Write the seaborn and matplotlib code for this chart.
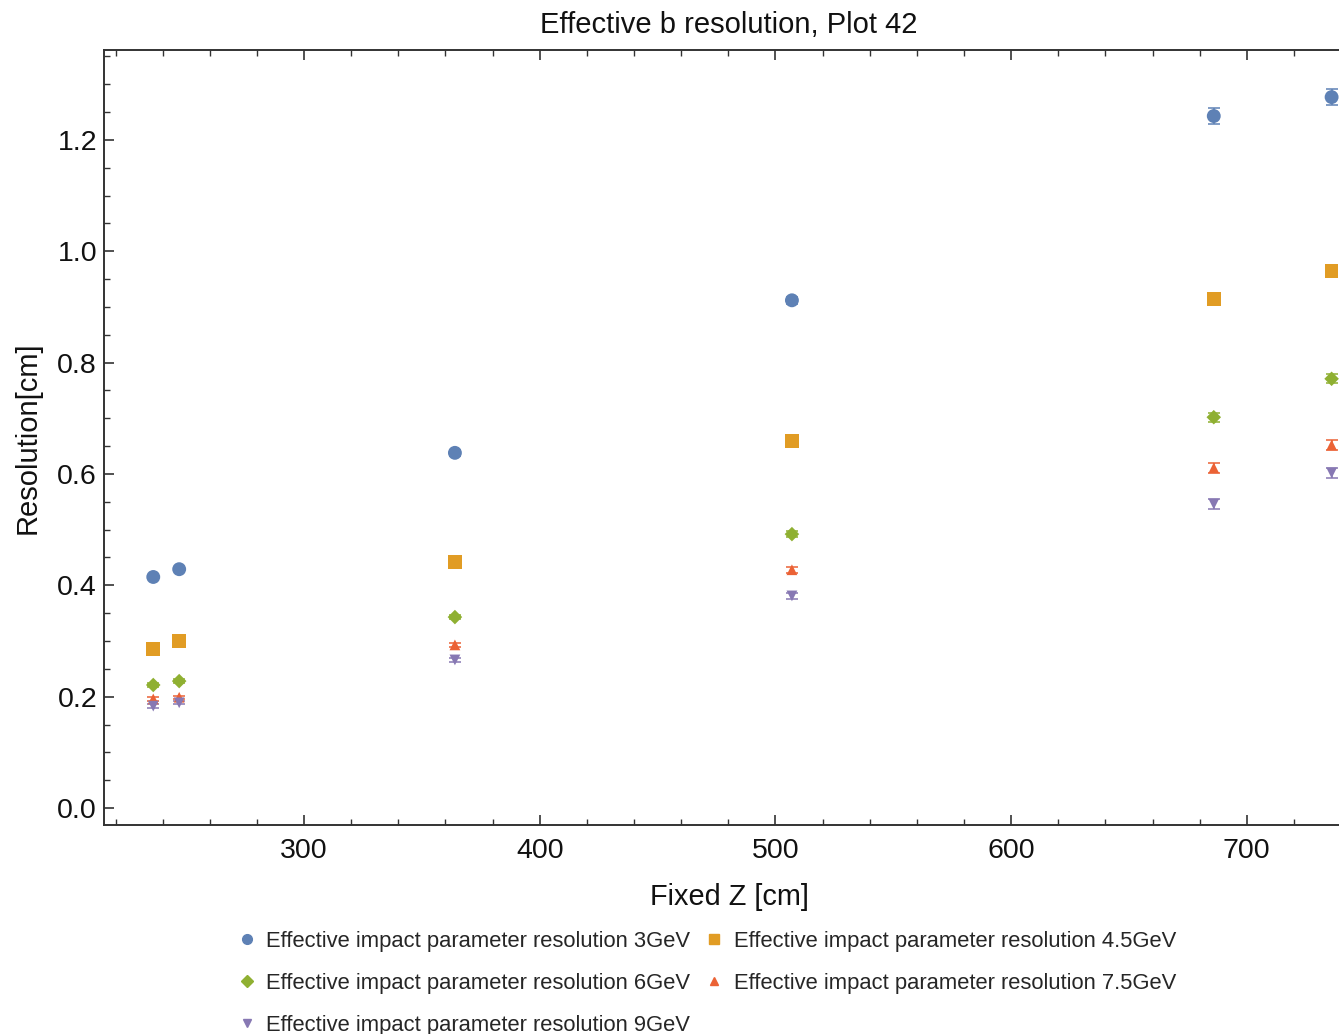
import numpy as np
import pandas as pd
import matplotlib
matplotlib.use("Agg")
import matplotlib.pyplot as plt
import seaborn as sns
from matplotlib.ticker import MultipleLocator, FormatStrFormatter
from matplotlib.lines import Line2D

# ---- data ----
fixed_z = [236, 247, 364, 507, 686, 736]
series_names = [
    "Effective impact parameter resolution 3GeV",
    "Effective impact parameter resolution 4.5GeV",
    "Effective impact parameter resolution 6GeV",
    "Effective impact parameter resolution 7.5GeV",
    "Effective impact parameter resolution 9GeV",
]
res_3gev = [0.415, 0.429, 0.638, 0.912, 1.243, 1.277]
res_4p5gev = [0.286, 0.300, 0.442, 0.659, 0.914, 0.965]
res_6gev = [0.221, 0.228, 0.343, 0.492, 0.702, 0.771]
res_7p5gev = [0.196, 0.199, 0.293, 0.428, 0.611, 0.652]
res_9gev = [0.183, 0.189, 0.266, 0.381, 0.546, 0.602]
err_3gev = [0.004, 0.004, 0.005, 0.006, 0.014, 0.014]
err_4p5gev = [0.003, 0.003, 0.004, 0.005, 0.008, 0.009]
err_6gev = [0.003, 0.003, 0.004, 0.005, 0.008, 0.008]
err_7p5gev = [0.003, 0.003, 0.004, 0.005, 0.009, 0.009]
err_9gev = [0.003, 0.003, 0.004, 0.005, 0.009, 0.009]

values = [res_3gev, res_4p5gev, res_6gev, res_7p5gev, res_9gev]
errors = [err_3gev, err_4p5gev, err_6gev, err_7p5gev, err_9gev]
colors = ["#5E81B5", "#E19C24", "#8FB032", "#EB6235", "#8778B3"]
markers = ["o", "s", "D", "^", "v"]
msizes = [100, 95, 55, 60, 60]

rows = []
for name, vals, errs in zip(series_names, values, errors):
    for z, v, e in zip(fixed_z, vals, errs):
        rows.append({"z": z, "res": v, "err": e, "series": name})
df = pd.DataFrame(rows)

sns.set_style("ticks")
plt.rcParams["font.family"] = ["Liberation Sans", "DejaVu Sans"]

W, H = 1339, 1034
fig = plt.figure(figsize=(W / 100, H / 100), dpi=100)
ax = fig.add_axes([104 / W, 1 - 825 / H, (1354 - 104) / W, (825 - 50) / H])

for name, col, mk, ms in zip(series_names, colors, markers, msizes):
    sub = df[df["series"] == name]
    ax.errorbar(sub["z"], sub["res"], yerr=sub["err"], fmt="none",
                ecolor=col, elinewidth=1.1, capsize=4.5, capthick=1.1, zorder=2)
    sns.scatterplot(data=sub, x="z", y="res", color=col, marker=mk, s=ms,
                    edgecolor="none", ax=ax, zorder=3, legend=False)

ax.set_xlim(215.1, 745.5)
ax.set_ylim(-0.0305, 1.3616)
ax.xaxis.set_major_locator(MultipleLocator(100))
ax.xaxis.set_minor_locator(MultipleLocator(20))
ax.yaxis.set_major_locator(MultipleLocator(0.2))
ax.yaxis.set_minor_locator(MultipleLocator(0.05))
ax.yaxis.set_major_formatter(FormatStrFormatter("%.1f"))
ax.tick_params(which="both", direction="in", top=True, right=True,
               colors="#333333", labelcolor="#111111", labelsize=20.5)
ax.tick_params(which="major", length=7, width=1.2)
ax.tick_params(which="minor", length=4, width=1.0)
ax.tick_params(axis="x", pad=9)
ax.tick_params(axis="y", pad=5)
for side in ["left", "bottom", "top"]:
    ax.spines[side].set_color("#333333")
    ax.spines[side].set_linewidth(1.4)
ax.spines["right"].set_visible(False)

ax.set_xlabel("Fixed Z [cm]", fontsize=20.8, color="#111111", labelpad=14)
ax.set_ylabel("Resolution[cm]", fontsize=21, color="#111111", labelpad=11)
ax.set_title("Effective b resolution, Plot 42", fontsize=21, color="#111111", pad=12)

# legend filled row-wise like the reference (matplotlib fills column-wise)
order = [0, 2, 4, 1, 3]
handles = [Line2D([], [], linestyle="none", marker=markers[i], color=colors[i],
                  markersize=7 if markers[i] in "os" else 6) for i in order]
labels = [series_names[i] for i in order]
fig.legend(handles, labels, loc="upper left", ncol=2,
           bbox_to_anchor=(238 / W, 1 - 931 / H), frameon=False, fontsize=15.8,
           handlelength=0.8, handletextpad=0.47, columnspacing=0.72,
           labelspacing=0.95, borderaxespad=0, borderpad=0)

fig.savefig("out.png", dpi=100)
